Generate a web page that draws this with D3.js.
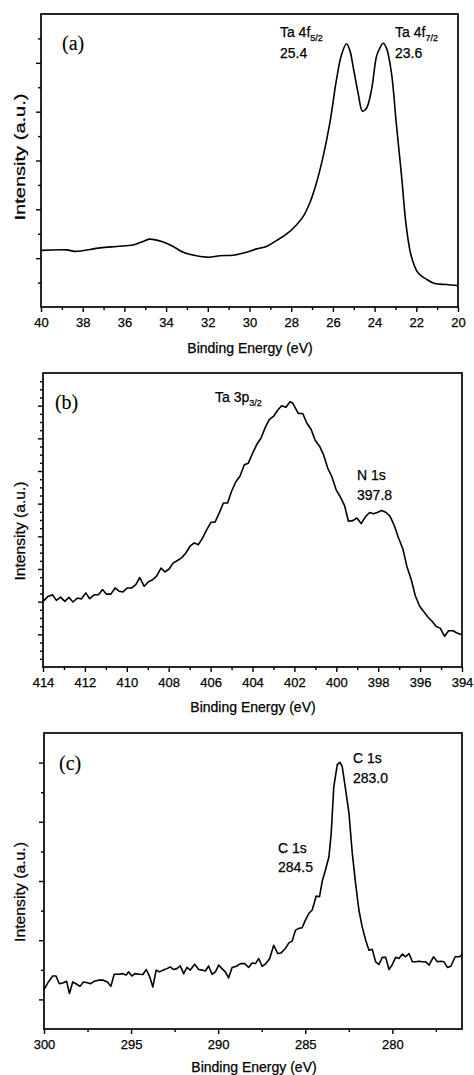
<!DOCTYPE html>
<html>
<head>
<meta charset="utf-8">
<script src="https://cdn.jsdelivr.net/npm/d3@7"></script>
<style>
  body { margin: 0; background: #fff; }
  svg { display: block; font-family: "Liberation Sans", Arial, sans-serif; }
  svg text { stroke: #000; stroke-width: 0.25px; fill: #000; }
</style>
</head>
<body>
<script>
// ---- data (binding energy in eV, intensity in arbitrary units) ----

// panel (a) Ta 4f
var energyA = [40.00, 38.77, 38.37, 37.17, 36.37, 35.58, 35.18, 34.78, 34.14, 33.66, 33.18, 32.54, 31.98, 31.42,
  30.78, 30.14, 29.66, 29.19, 28.71, 28.23, 27.75, 27.43, 27.11, 26.79, 26.47, 26.15, 25.83, 25.59, 25.35,
  25.19, 25.03, 24.79, 24.58, 24.39, 24.15, 23.91, 23.75, 23.59, 23.43, 23.19, 22.96, 22.72, 22.48, 22.24,
  21.92, 21.52, 21.12, 20.56, 20.00];
var intensityA = [1.16, 1.17, 1.14, 1.21, 1.24, 1.27, 1.33, 1.39, 1.33, 1.24, 1.12, 1.05, 1.02, 1.05,
  1.06, 1.12, 1.19, 1.24, 1.36, 1.49, 1.68, 1.85, 2.13, 2.54, 3.08, 3.76, 4.65, 5.16, 5.39,
  5.26, 4.92, 4.38, 4.01, 4.07, 4.44, 5.13, 5.30, 5.40, 5.30, 4.79, 3.76, 2.74, 1.65, 1.04,
  0.70, 0.57, 0.48, 0.46, 0.44];

// panel (b) Ta 3p / N 1s
var energyB = [414.00, 413.76, 413.55, 413.36, 413.16, 412.96, 412.76, 412.57, 412.36, 412.17, 411.96, 411.77,
  411.56, 411.35, 411.16, 410.97, 410.76, 410.56, 410.37, 410.18, 409.97, 409.76, 409.57, 409.38, 409.17,
  408.98, 408.77, 408.58, 408.37, 408.18, 407.98, 407.79, 407.58, 407.39, 407.18, 406.99, 406.78, 406.59,
  406.38, 406.19, 405.98, 405.79, 405.59, 405.39, 405.19, 405.00, 404.79, 404.60, 404.39, 404.20, 403.99,
  403.80, 403.59, 403.40, 403.20, 403.00, 402.80, 402.61, 402.40, 402.21, 402.08, 401.81, 401.60, 401.41,
  401.20, 401.01, 400.80, 400.61, 400.41, 400.22, 400.01, 399.82, 399.61, 399.42, 399.21, 399.02, 398.81,
  398.62, 398.41, 398.22, 398.02, 397.83, 397.62, 397.43, 397.22, 397.03, 396.82, 396.63, 396.42, 396.23,
  396.02, 395.83, 395.63, 395.43, 395.23, 395.04, 394.83, 394.64, 394.43, 394.24, 394.00];
var intensityB = [2.01, 2.16, 2.21, 2.04, 2.14, 2.01, 2.13, 1.99, 2.11, 2.08, 2.27, 2.09,
  2.21, 2.21, 2.37, 2.23, 2.23, 2.42, 2.32, 2.30, 2.42, 2.42, 2.52, 2.74, 2.47,
  2.60, 2.67, 2.78, 3.03, 2.91, 3.00, 3.18, 3.26, 3.34, 3.49, 3.69, 3.80, 3.74,
  3.95, 4.20, 4.43, 4.43, 4.71, 5.02, 5.02, 5.38, 5.68, 5.84, 6.19, 6.24, 6.55,
  6.81, 7.01, 7.32, 7.57, 7.67, 7.86, 8.00, 7.95, 8.12, 8.08, 7.76, 7.76, 7.47,
  7.27, 6.94, 6.76, 6.50, 6.09, 5.84, 5.43, 5.22, 4.95, 4.46, 4.48, 4.56, 4.39,
  4.59, 4.73, 4.69, 4.74, 4.79, 4.73, 4.61, 4.31, 3.95, 3.61, 3.08, 2.67, 2.18,
  1.86, 1.70, 1.53, 1.40, 1.24, 1.19, 0.94, 1.11, 1.11, 1.04, 0.99];

// panel (c) C 1s
var energyC = [300.00, 299.75, 299.50, 299.31, 299.12, 298.89, 298.70, 298.54, 298.35, 298.16, 297.93, 297.74,
  297.51, 297.32, 297.12, 296.87, 296.59, 296.36, 296.16, 295.97, 295.72, 295.47, 295.28, 295.15, 294.96,
  294.77, 294.52, 294.32, 294.13, 293.94, 293.75, 293.56, 293.37, 293.14, 292.94, 292.75, 292.56, 292.37,
  292.18, 291.98, 291.79, 291.60, 291.35, 291.12, 290.93, 290.74, 290.55, 290.35, 290.16, 289.97, 289.78,
  289.59, 289.40, 289.20, 288.95, 288.72, 288.48, 288.25, 288.05, 287.86, 287.67, 287.48, 287.29, 287.04,
  286.81, 286.58, 286.39, 286.14, 285.94, 285.75, 285.56, 285.37, 285.18, 284.99, 284.79, 284.60, 284.37,
  284.18, 284.03, 283.84, 283.64, 283.51, 283.36, 283.16, 283.01, 282.88, 282.68, 282.49, 282.30, 282.11,
  281.92, 281.73, 281.53, 281.34, 281.15, 280.96, 280.77, 280.58, 280.38, 280.19, 280.00, 279.81, 279.62,
  279.42, 279.23, 279.04, 278.85, 278.66, 278.47, 278.27, 278.08, 277.89, 277.64, 277.41, 277.22, 277.03,
  276.84, 276.64, 276.39, 276.16, 275.97];
var intensityC = [1.33, 1.59, 1.79, 1.79, 1.53, 1.56, 1.61, 1.20, 1.59, 1.53, 1.44, 1.59,
  1.56, 1.53, 1.61, 1.65, 1.65, 1.59, 1.44, 1.85, 1.85, 1.87, 1.82, 1.93, 1.79,
  1.87, 1.85, 1.84, 2.01, 1.78, 1.42, 1.99, 1.93, 1.99, 2.04, 2.10, 2.01, 2.04,
  2.13, 1.87, 2.08, 1.99, 2.19, 2.01, 1.99, 1.96, 2.13, 1.85, 1.93, 2.16, 2.04,
  1.93, 1.73, 2.08, 2.12, 2.21, 2.21, 2.08, 2.23, 2.21, 2.38, 2.12, 2.19, 2.38,
  2.83, 2.55, 2.57, 2.72, 2.91, 2.97, 3.34, 3.40, 3.42, 3.68, 3.91, 4.02, 4.49,
  4.47, 4.98, 5.37, 5.82, 6.61, 8.19, 8.93, 9.01, 8.87, 8.08, 7.29, 5.94, 4.92,
  4.02, 3.45, 3.00, 2.66, 2.69, 2.27, 2.18, 2.42, 2.42, 2.01, 2.18, 2.42, 2.38,
  2.53, 2.44, 2.55, 2.27, 2.27, 2.29, 2.27, 2.27, 2.16, 2.44, 2.27, 2.29, 2.27,
  2.08, 2.12, 2.44, 2.44, 2.52];

// tick values
var xTicksA = [40, 38, 36, 34, 32, 30, 28, 26, 24, 22, 20];
var xMinorA = [39, 37, 35, 33, 31, 29, 27, 25, 23, 21];
var xTicksB = [414, 412, 410, 408, 406, 404, 402, 400, 398, 396, 394];
var xMinorB = [413, 411, 409, 407, 405, 403, 401, 399, 397, 395];
var xTicksC = [300, 295, 290, 285, 280];
var xMinorC = [297.5, 292.5, 287.5, 282.5, 277.5];

// peak labels: [energy, intensity, main text, subscript]
var labelsA = [[28.54, 5.53, "Ta 4f", "5/2"], [28.54, 5.10, "25.4", ""],
               [23.02, 5.53, "Ta 4f", "7/2"], [23.02, 5.10, "23.6", ""]];
var labelsB = [[405.79, 8.11, "Ta 3p", "3/2"], [399.01, 5.72, "N 1s", ""], [399.01, 5.11, "397.8", ""]];
var labelsC = [[282.26, 8.99, "C 1s", ""], [282.26, 8.31, "283.0", ""],
               [286.57, 5.95, "C 1s", ""], [286.57, 5.30, "284.5", ""]];

var svg = d3.select("body").append("svg")
  .attr("width", 474)
  .attr("height", 1075);

svg.append("rect").attr("width", 474).attr("height", 1075).attr("fill", "#fff");

function drawPanel(p) {
  var x = d3.scaleLinear().domain(p.xDomain).range([p.left, p.right]);
  var y = d3.scaleLinear().domain(p.yDomain).range([p.bottom, p.top]);

  // minor ticks
  svg.append("g")
     .attr("transform", `translate(0,${p.bottom})`)
     .call(d3.axisBottom(x).tickValues(p.xMinor).tickSize(3).tickFormat(""))
     .call(g => g.select(".domain").remove());
  svg.append("g")
     .attr("transform", `translate(${p.left},0)`)
     .call(d3.axisLeft(y).tickValues(p.yMinor).tickSize(3).tickFormat(""))
     .call(g => g.select(".domain").remove());

  // major ticks
  svg.append("g")
     .attr("transform", `translate(0,${p.bottom})`)
     .call(d3.axisBottom(x).tickValues(p.xTicks).tickSize(5).tickPadding(6).tickFormat(d3.format("d")))
     .call(g => g.select(".domain").remove())
     .call(g => g.selectAll("text").attr("font-size", 13)
                  .attr("font-family", "'Liberation Sans', Arial, sans-serif"));
  svg.append("g")
     .attr("transform", `translate(${p.left},0)`)
     .call(d3.axisLeft(y).tickValues(p.yTicks).tickSize(5).tickFormat(""))
     .call(g => g.select(".domain").remove());

  svg.selectAll(".tick line").attr("stroke", "#000").attr("stroke-width", 1.4);

  // frame
  svg.append("rect")
     .attr("x", p.left).attr("y", p.top)
     .attr("width", p.right - p.left).attr("height", p.bottom - p.top)
     .attr("fill", "none").attr("stroke", "#000").attr("stroke-width", 1.7);

  // spectrum
  var pts = p.energy.map((e, i) => [e, p.intensity[i]]);
  svg.append("path")
     .datum(pts)
     .attr("fill", "none")
     .attr("stroke", "#000")
     .attr("stroke-width", 1.6)
     .attr("stroke-linejoin", "round")
     .attr("d", d3.line().x(d => x(d[0])).y(d => y(d[1])).curve(p.curve));

  // panel letter
  svg.append("text")
     .attr("x", x(p.tag[0])).attr("y", y(p.tag[1]))
     .attr("font-family", "'Liberation Serif', 'Times New Roman', serif")
     .attr("font-size", 20)
     .style("stroke-width", "0.1px")
     .text(p.tag[2]);

  // peak labels
  p.labels.forEach(function(l) {
    var t = svg.append("text")
       .attr("x", x(l[0])).attr("y", y(l[1]))
       .attr("font-size", 14)
       .text(l[2]);
    if (l[3]) {
      t.append("tspan").attr("font-size", 9).attr("dy", 4).text(l[3]);
    }
  });

  // axis titles
  svg.append("text")
     .attr("x", p.xTitle[0]).attr("y", p.xTitle[1])
     .attr("text-anchor", "middle")
     .attr("font-size", 14)
     .text("Binding Energy (eV)");

  svg.append("text")
     .attr("transform", `translate(25,${p.yTitle[0]}) rotate(-90)`)
     .attr("text-anchor", "middle")
     .attr("font-size", 14.5)
     .attr("textLength", p.yTitle[1])
     .attr("lengthAdjust", "spacingAndGlyphs")
     .text("Intensity (a.u.)");
}

drawPanel({
  left: 41, right: 458, top: 14, bottom: 307,
  xDomain: [40, 20], yDomain: [0, 6],
  xTicks: xTicksA, xMinor: xMinorA,
  yTicks: [1, 2, 3, 4, 5], yMinor: [0.5, 1.5, 2.5, 3.5, 4.5, 5.5],
  energy: energyA, intensity: intensityA,
  curve: d3.curveCatmullRom.alpha(0.5),
  tag: [38.99, 5.26, "(a)"], labels: labelsA,
  xTitle: [250, 353], yTitle: [157, 127]
});

drawPanel({
  left: 43, right: 462, top: 373, bottom: 667,
  xDomain: [414, 394], yDomain: [0, 9],
  xTicks: xTicksB, xMinor: xMinorB,
  yTicks: [1, 2, 3, 4, 5, 6, 7, 8],
  yMinor: d3.range(0.25, 9, 0.25).filter(v => v % 1 !== 0),
  energy: energyB, intensity: intensityB,
  curve: d3.curveLinear,
  tag: [413.43, 7.90, "(b)"], labels: labelsB,
  xTitle: [253, 712], yTitle: [531, 99]
});

drawPanel({
  left: 44, right: 462, top: 733, bottom: 1029,
  xDomain: [300, 276], yDomain: [0, 10],
  xTicks: xTicksC, xMinor: xMinorC,
  yTicks: [1, 3, 5, 7, 9], yMinor: [2, 4, 6, 8],
  energy: energyC, intensity: intensityC,
  curve: d3.curveLinear,
  tag: [299.14, 8.75, "(c)"], labels: labelsC,
  xTitle: [254, 1072], yTitle: [892, 100]
});
</script>
</body>
</html>
